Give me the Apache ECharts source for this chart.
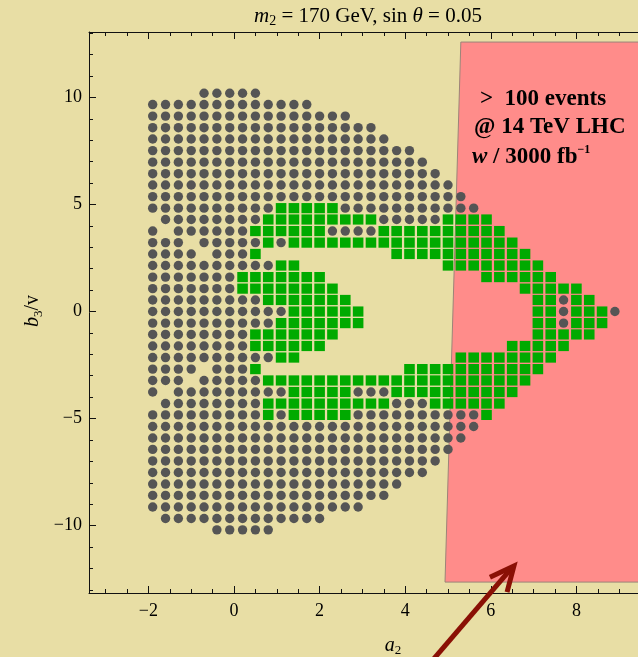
<!DOCTYPE html>
<html>
<head>
<meta charset="utf-8">
<script src="https://cdn.jsdelivr.net/npm/echarts@6/dist/echarts.min.js"></script>
<style>
  html, body { margin: 0; padding: 0; background: #E8DEA5; }
  #chart { width: 638px; height: 657px; }
</style>
</head>
<body>
<div id="chart"></div>
<script>
// Scan grid in a2 (columns) and b3/v (rows, top to bottom)
const aValues = [-1.9, -1.6, -1.3, -1.0, -0.7, -0.4, -0.1, 0.2, 0.5, 0.8, 1.1, 1.4, 1.7,
  2.0, 2.3, 2.6, 2.9, 3.2, 3.5, 3.8, 4.1, 4.4, 4.7, 5.0, 5.3, 5.6, 5.9, 6.2, 6.5, 6.8,
  7.1, 7.4, 7.7, 8.0, 8.3, 8.6, 8.9];
const bValues = [10.20, 9.67, 9.13, 8.59, 8.06, 7.52, 6.98, 6.44, 5.91, 5.37, 4.83, 4.30,
  3.76, 3.22, 2.69, 2.15, 1.61, 1.07, 0.54, 0, -0.54, -1.07, -1.61, -2.15, -2.69, -3.22,
  -3.76, -4.30, -4.83, -5.37, -5.91, -6.44, -6.98, -7.52, -8.06, -8.59, -9.13, -9.67, -10.20];

// Per row: runs of column indices; D = allowed point, G = point passing the extra cut
const rowCells = [
  "D4-8",
  "D0-12",
  "D0-15",
  "D0-17",
  "D0-18",
  "D0-20",
  "D0-21",
  "D0-22",
  "D0-23",
  "D0-24",
  "D0-9 G10-14 D15-25",
  "D1-8 G9-17 D18-22 G23-26",
  "D0-0 D2-7 G8-13 D14-17 G18-27",
  "D0-2 D4-8 G9-9 D10-10 G11-28",
  "D0-3 D5-7 G8-8 G19-29",
  "D0-9 G10-11 G23-30",
  "D0-6 G7-13 G26-31",
  "D0-6 G7-14 G29-33",
  "D0-8 G9-15 G30-31 D32-32 G33-34",
  "D0-10 G11-16 G30-31 D32-32 G33-35 D36-36",
  "D0-9 G10-16 G30-31 D32-32 G33-35",
  "D0-7 G8-14 G30-34",
  "D0-7 G8-13 G28-32",
  "D0-9 G10-11 G24-31",
  "D0-3 D5-7 G8-8 G20-30",
  "D0-2 D4-8 G9-29",
  "D0-0 D2-10 G11-15 D16-18 G19-28",
  "D1-8 G9-18 D19-21 G22-27",
  "D0-8 G9-9 D10-10 G11-15 D16-25 G26-26",
  "D0-25",
  "D0-24",
  "D0-23",
  "D0-22",
  "D0-21",
  "D0-19",
  "D0-18",
  "D0-16",
  "D1-13",
  "D5-9"
];

// Shaded LHC reach region (vertices in a2, b3/v)
const regionA = [5.30, 4.93, 9.6, 9.6];
const regionB = [12.59, -12.64, -12.64, 12.59];

// Annotation arrow: shaft and open head
const arrowShaftA = [4.46, 6.50];
const arrowShaftB = [-16.71, -11.95];
const arrowHeadA = [5.98, 6.54, 6.38];
const arrowHeadB = [-12.41, -11.89, -13.11];

// Axis ticks
const xMajorTicks = [-2, 0, 2, 4, 6, 8];
const yMajorTicks = [-10, -5, 0, 5, 10];
const xMinorTicks = [-3, -2.5, -1.5, -1, -0.5, 0.5, 1, 1.5, 2.5, 3, 3.5, 4.5, 5, 5.5, 6.5, 7, 7.5, 8.5, 9, 9.5];
const yMinorTicks = [-13, -12, -11, -9, -8, -7, -6, -4, -3, -2, -1, 1, 2, 3, 4, 6, 7, 8, 9, 11, 12, 13];

const dots = [], squares = [];
rowCells.forEach((row, r) => {
  row.split(' ').forEach(run => {
    const kind = run[0];
    const [s, e] = run.slice(1).split('-').map(Number);
    for (let c = s; c <= e; c++) {
      (kind === 'G' ? squares : dots).push([aValues[c], bValues[r]]);
    }
  });
});

const SERIF = "'Liberation Serif', 'DejaVu Serif', serif";
const fmt = v => (v < 0 ? '\u2212' + Math.abs(v) : String(v));
const X_MIN = -3.388, X_MAX = 9.673, Y_MIN = -13.15, Y_MAX = 13.06;

function xAxisDef(pos, ticks, len, withLine, withLabel) {
  return {
    type: 'value', position: pos, min: X_MIN, max: X_MAX,
    axisLine: { show: withLine, onZero: false, lineStyle: { color: '#111', width: 1 } },
    axisTick: { show: true, inside: true, length: len, customValues: ticks, lineStyle: { color: '#111', width: 1 } },
    axisLabel: withLabel ? { show: true, customValues: ticks, formatter: fmt, margin: 9,
      color: '#000', fontFamily: SERIF, fontSize: 18 } : { show: false },
    splitLine: { show: false }
  };
}
function yAxisDef(pos, ticks, len, withLine, withLabel) {
  return {
    type: 'value', position: pos, min: Y_MIN, max: Y_MAX,
    axisLine: { show: withLine, onZero: false, lineStyle: { color: '#111', width: 1 } },
    axisTick: { show: true, inside: true, length: len, customValues: ticks, lineStyle: { color: '#111', width: 1 } },
    axisLabel: withLabel ? { show: true, customValues: ticks, formatter: fmt, margin: 7,
      color: '#000', fontFamily: SERIF, fontSize: 18 } : { show: false },
    splitLine: { show: false }
  };
}

const chart = echarts.init(document.getElementById('chart'), null, { renderer: 'canvas' });
chart.setOption({
  backgroundColor: '#E8DEA5',
  animation: false,
  grid: { left: 89, top: 32, width: 559, height: 561, containLabel: false, outerBoundsMode: 'none' },
  xAxis: [
    xAxisDef('bottom', xMajorTicks, 7, true, true),
    xAxisDef('bottom', xMinorTicks, 4, false, false),
    xAxisDef('top', xMajorTicks, 7, true, false),
    xAxisDef('top', xMinorTicks, 4, false, false)
  ],
  yAxis: [
    yAxisDef('left', yMajorTicks, 7, true, true),
    yAxisDef('left', yMinorTicks, 4, false, false)
  ],
  series: [
    {
      type: 'custom',
      xAxisIndex: 0, yAxisIndex: 0,
      data: [[regionA[0], regionB[0]]],
      z: 1,
      renderItem: (params, api) => {
        const pts = regionA.map((a, i) => api.coord([a, regionB[i]]));
        return {
          type: 'polygon',
          shape: { points: pts },
          style: { fill: '#FF8C8A', stroke: '#9C8478', lineWidth: 1 }
        };
      }
    },
    {
      type: 'scatter', name: 'allowed', xAxisIndex: 0, yAxisIndex: 0,
      data: dots, symbol: 'circle', symbolSize: 9.4,
      itemStyle: { color: '#555555', opacity: 1 }, z: 3
    },
    {
      type: 'scatter', name: 'selected', xAxisIndex: 0, yAxisIndex: 0,
      data: squares, symbol: 'rect', symbolSize: [10.6, 10.2],
      itemStyle: { color: '#00AA00', opacity: 1 }, z: 4
    },
    {
      type: 'line', xAxisIndex: 0, yAxisIndex: 0, clip: false, z: 6,
      data: arrowShaftA.map((a, i) => [a, arrowShaftB[i]]),
      symbol: 'none', lineStyle: { color: '#8A1005', width: 5, cap: 'butt' }
    },
    {
      type: 'line', xAxisIndex: 0, yAxisIndex: 0, clip: false, z: 6,
      data: arrowHeadA.map((a, i) => [a, arrowHeadB[i]]),
      symbol: 'none', lineStyle: { color: '#8A1005', width: 5, join: 'miter', cap: 'butt' }
    }
  ],
  graphic: [
    {
      type: 'text', x: 368, y: 16, z: 10,
      style: {
        text: '{i|m}{s|2}{n| = 170 GeV, sin }{i|\u03B8}{n| = 0.05}',
        align: 'center', verticalAlign: 'middle',
        rich: {
          n: { fontFamily: SERIF, fontSize: 21, lineHeight: 24, fill: '#000' },
          i: { fontFamily: SERIF, fontSize: 21, fontStyle: 'italic', lineHeight: 24, fill: '#000' },
          s: { fontFamily: SERIF, fontSize: 14, lineHeight: 13, verticalAlign: 'bottom', fill: '#000' }
        }
      }
    },
    {
      type: 'text', x: 393, y: 646, z: 10,
      style: {
        text: '{i|a}{s|2}', align: 'center', verticalAlign: 'middle',
        rich: {
          i: { fontFamily: SERIF, fontSize: 20, fontStyle: 'italic', lineHeight: 22, fill: '#000' },
          s: { fontFamily: SERIF, fontSize: 13, lineHeight: 12, verticalAlign: 'bottom', fill: '#000' }
        }
      }
    },
    {
      type: 'text', x: 33, y: 311, rotation: Math.PI / 2, z: 10,
      style: {
        text: '{i|b}{s|3}{n|/v}', align: 'center', verticalAlign: 'middle',
        rich: {
          n: { fontFamily: SERIF, fontSize: 20, lineHeight: 24, fill: '#000' },
          i: { fontFamily: SERIF, fontSize: 20, fontStyle: 'italic', lineHeight: 24, fill: '#000' },
          s: { fontFamily: SERIF, fontSize: 13, lineHeight: 13, verticalAlign: 'bottom', fill: '#000' }
        }
      }
    },
    {
      type: 'text', x: 480, y: 99, z: 10,
      style: { text: '>  100 events', align: 'left', verticalAlign: 'middle',
        font: "bold 23px 'Liberation Serif', serif", fill: '#000' }
    },
    {
      type: 'text', x: 474, y: 127, z: 10,
      style: { text: '@ 14 TeV LHC', align: 'left', verticalAlign: 'middle',
        font: "bold 23px 'Liberation Serif', serif", fill: '#000' }
    },
    {
      type: 'text', x: 472, y: 157, z: 10,
      style: {
        text: '{i|w}{n| / 3000 fb}{s|\u22121}', align: 'left', verticalAlign: 'middle',
        rich: {
          n: { fontFamily: SERIF, fontSize: 23, fontWeight: 'bold', lineHeight: 27, fill: '#000' },
          i: { fontFamily: SERIF, fontSize: 23, fontWeight: 'bold', fontStyle: 'italic', lineHeight: 27, fill: '#000' },
          s: { fontFamily: SERIF, fontSize: 12, fontWeight: 'bold', lineHeight: 12, verticalAlign: 'top', fill: '#000' }
        }
      }
    }
  ]
});
</script>
</body>
</html>
